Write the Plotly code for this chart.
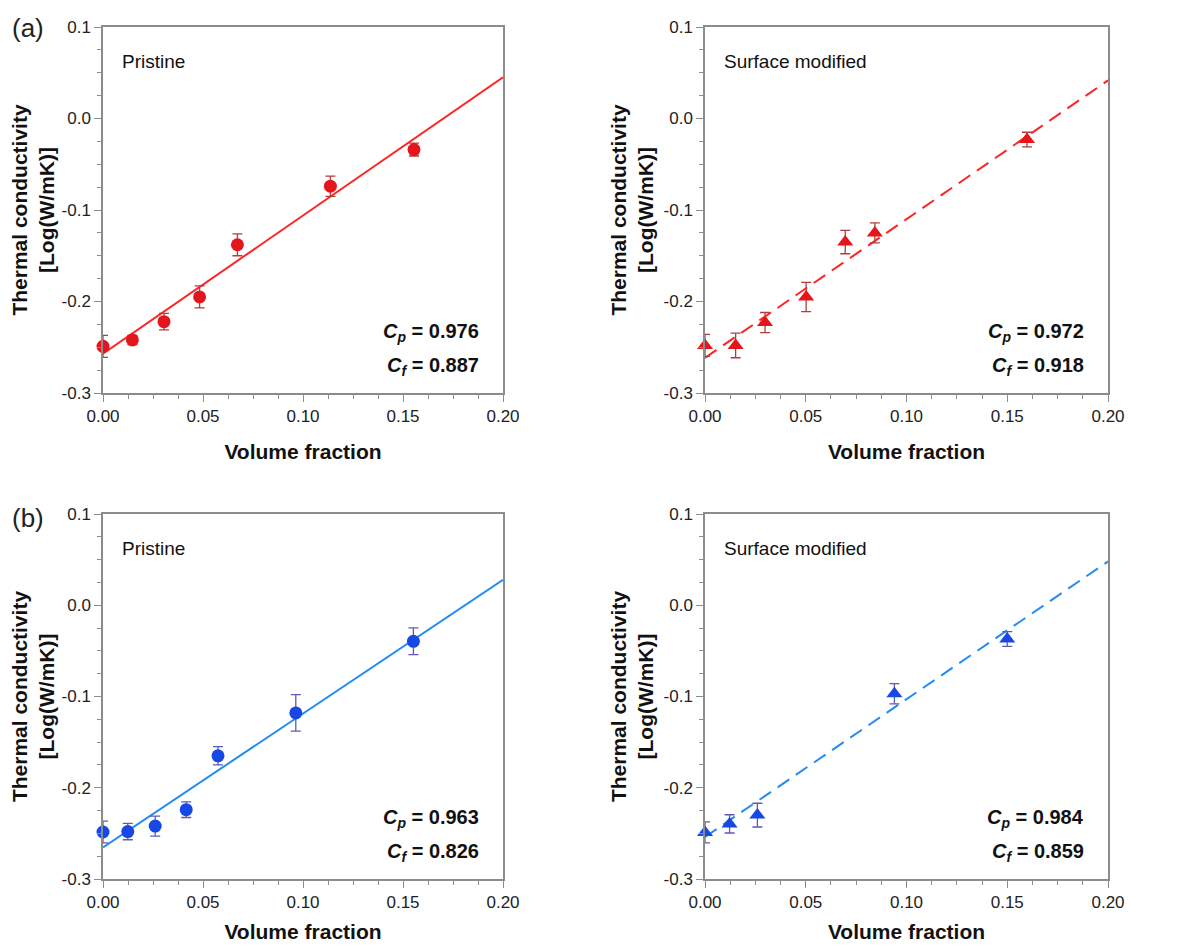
import plotly.graph_objects as go

# ---------------- data ----------------
fit_x_range = [0.0, 0.20]

# (a) Pristine
a_pri_x = [0.0, 0.0147, 0.0305, 0.0483, 0.0672, 0.1137, 0.1555]
a_pri_y = [-0.249, -0.242, -0.222, -0.195, -0.138, -0.074, -0.034]
a_pri_err = [0.012, 0.005, 0.009, 0.012, 0.012, 0.011, 0.007]
a_pri_fit = [-0.257, 1.51]          # intercept, slope
a_pri_cp, a_pri_cf = "0.976", "0.887"

# (a) Surface modified
a_mod_x = [0.0, 0.0152, 0.0298, 0.0502, 0.0696, 0.0843, 0.1598]
a_mod_y = [-0.248, -0.248, -0.223, -0.195, -0.135, -0.125, -0.023]
a_mod_err = [0.012, 0.0135, 0.011, 0.016, 0.0128, 0.011, 0.008]
a_mod_fit = [-0.2616, 1.516]
a_mod_cp, a_mod_cf = "0.972", "0.918"

# (b) Pristine
b_pri_x = [0.0, 0.0124, 0.0261, 0.0416, 0.0575, 0.0964, 0.1552]
b_pri_y = [-0.2485, -0.248, -0.242, -0.224, -0.165, -0.118, -0.0395]
b_pri_err = [0.012, 0.009, 0.011, 0.0086, 0.010, 0.020, 0.0146]
b_pri_fit = [-0.2653, 1.466]
b_pri_cp, b_pri_cf = "0.963", "0.826"

# (b) Surface modified
b_mod_x = [0.0, 0.0122, 0.026, 0.094, 0.150]
b_mod_y = [-0.249, -0.2396, -0.230, -0.097, -0.037]
b_mod_err = [0.0115, 0.010, 0.013, 0.011, 0.008]
b_mod_fit = [-0.254, 1.51]
b_mod_cp, b_mod_cf = "0.984", "0.859"

x_tickvals = [0.0, 0.05, 0.10, 0.15, 0.20]
x_ticktext = ["0.00", "0.05", "0.10", "0.15", "0.20"]
y_tickvals = [-0.3, -0.2, -0.1, 0.0, 0.1]
y_ticktext = ["-0.3", "-0.2", "-0.1", "0.0", "0.1"]

panel_labels = ["(a)", "(b)"]
sample_labels = ["Pristine", "Surface modified"]

# ---------------- styling ----------------
RED_MK = "rgb(228,22,28)"
RED_ERR = "rgb(180,60,60)"
RED_LINE = "rgb(255,35,35)"
BLUE_MK = "rgb(22,72,230)"
BLUE_ERR = "rgb(95,90,185)"
BLUE_LINE = "rgb(35,140,240)"
AXIS_C = "rgb(140,140,140)"
FONT = "Liberation Sans, Arial, sans-serif"

W, H = 1193, 947
OFF = 8  # page body margin in the browser
xdom = {"L": [(103 - OFF) / W, (503 - OFF) / W], "R": [(705 - OFF) / W, (1108 - OFF) / W]}
ydom = {"T": [(H - 393 + OFF) / H, (H - 27 + OFF) / H], "B": [(H - 879 + OFF) / H, (H - 514 + OFF) / H]}

panels = [
    ("", "L", "T", a_pri_x, a_pri_y, a_pri_err, a_pri_fit, a_pri_cp, a_pri_cf, "circle", RED_MK, RED_ERR, RED_LINE, "solid", sample_labels[0]),
    ("2", "R", "T", a_mod_x, a_mod_y, a_mod_err, a_mod_fit, a_mod_cp, a_mod_cf, "triangle-up", RED_MK, RED_ERR, RED_LINE, "dash", sample_labels[1]),
    ("3", "L", "B", b_pri_x, b_pri_y, b_pri_err, b_pri_fit, b_pri_cp, b_pri_cf, "circle", BLUE_MK, BLUE_ERR, BLUE_LINE, "solid", sample_labels[0]),
    ("4", "R", "B", b_mod_x, b_mod_y, b_mod_err, b_mod_fit, b_mod_cp, b_mod_cf, "triangle-up", BLUE_MK, BLUE_ERR, BLUE_LINE, "dash", sample_labels[1]),
]

fig = go.Figure()
annotations = []
layout = {}

for suf, col, row, xs, ys, errs, fit, cp, cf, sym, mcol, ecol, lcol, dash, lab in panels:
    xa, ya = "x" + suf, "y" + suf
    fit_y = [fit[0] + fit[1] * xv for xv in fit_x_range]
    fig.add_trace(go.Scatter(
        x=fit_x_range, y=fit_y, mode="lines", xaxis=xa, yaxis=ya,
        line=dict(color=lcol, width=2, dash="solid" if dash == "solid" else "14px,8px"),
        showlegend=False, hoverinfo="skip"))
    fig.add_trace(go.Scatter(
        x=xs, y=ys, mode="markers", xaxis=xa, yaxis=ya, cliponaxis=False,
        marker=dict(symbol=sym, size=13 if sym == "circle" else 14, color=mcol,
                    line=dict(width=0)),
        error_y=dict(type="data", array=errs, color=ecol, thickness=1.3, width=5),
        showlegend=False))

    axis_common = dict(
        showline=True, linecolor=AXIS_C, linewidth=1.5, mirror=True,
        ticks="outside", tickcolor=AXIS_C, tickwidth=1.2, ticklen=7,
        showgrid=False, zeroline=False, automargin=False,
        tickfont=dict(family=FONT, size=17, color="#222"),
    )
    layout["xaxis" + suf] = dict(
        axis_common, domain=xdom[col], range=[0, 0.2], anchor=ya,
        tickvals=x_tickvals, ticktext=x_ticktext,
        minor=dict(ticks="outside", ticklen=4, tickcolor=AXIS_C, dtick=0.0125, tick0=0),
        title=dict(text="Volume fraction", standoff=19 if row == "T" else 13,
                   font=dict(family=FONT, size=21, color="#111", weight="bold")),
    )
    layout["yaxis" + suf] = dict(
        axis_common, domain=ydom[row], range=[-0.3, 0.1], anchor=xa,
        tickvals=y_tickvals, ticktext=y_ticktext,
        minor=dict(ticks="outside", ticklen=4, tickcolor=AXIS_C, dtick=0.025, tick0=0),
        title=dict(text="Thermal conductivity<br>[Log(W/mK)]", standoff=4,
                   font=dict(family=FONT, size=21, color="#111", weight="bold")),
    )
    xr = "x" + suf + " domain"
    yr = "y" + suf + " domain"
    annotations.append(dict(
        text=lab, xref=xr, yref=yr, x=0.043, y=0.905, xanchor="left", yanchor="middle",
        showarrow=False, font=dict(family=FONT, size=19, color="#111")))
    annotations.append(dict(
        text="<b><i>C</i><sub><i>p</i></sub> = " + cp + "</b>", xref=xr, yref=yr,
        x=0.945, y=0.165, xanchor="right", yanchor="middle",
        showarrow=False, font=dict(family=FONT, size=20, color="#111")))
    annotations.append(dict(
        text="<b><i>C</i><sub><i>f</i></sub> = " + cf + "</b>", xref=xr, yref=yr,
        x=0.945, y=0.072, xanchor="right", yanchor="middle",
        showarrow=False, font=dict(family=FONT, size=20, color="#111")))

annotations.append(dict(text=panel_labels[0], xref="paper", yref="paper",
                        x=2 / W, y=(H - 20) / H, xanchor="left", yanchor="middle",
                        showarrow=False, font=dict(family=FONT, size=26, color="#222")))
annotations.append(dict(text=panel_labels[1], xref="paper", yref="paper",
                        x=2 / W, y=(H - 510) / H, xanchor="left", yanchor="middle",
                        showarrow=False, font=dict(family=FONT, size=26, color="#222")))

fig.update_layout(
    width=W, height=H, margin=dict(l=0, r=0, t=0, b=0, autoexpand=False),
    paper_bgcolor="white", plot_bgcolor="white",
    annotations=annotations, **layout)

fig.write_html("out.html")
